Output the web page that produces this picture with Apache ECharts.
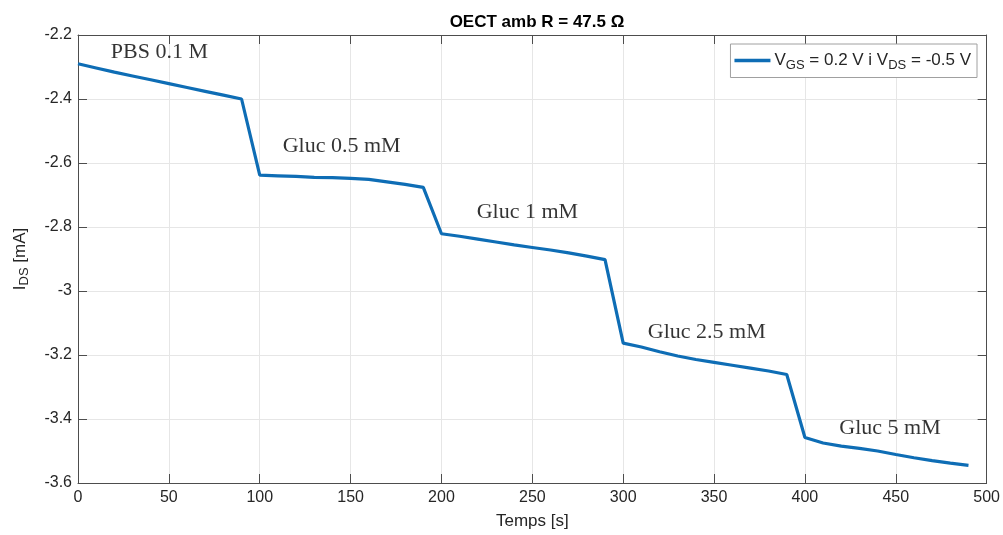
<!DOCTYPE html>
<html>
<head>
<meta charset="utf-8">
<script src="https://cdn.jsdelivr.net/npm/echarts@6/dist/echarts.min.js"></script>
<style>
  html, body { margin: 0; padding: 0; background: #fff; }
  #chart { width: 1003px; height: 535px; }
</style>
</head>
<body>
<div id="chart"></div>
<script>
// temps [s]
const temps = [0, 10, 20, 30, 40, 50, 60, 70, 80, 90,
  100, 110, 120, 130, 140, 150, 160, 170, 180, 190,
  200, 210, 220, 230, 240, 250, 260, 270, 280, 290,
  300, 310, 320, 330, 340, 350, 360, 370, 380, 390,
  400, 410, 420, 430, 440, 450, 460, 470, 480, 490]
// I_DS [mA]
const ids = [-2.290, -2.303, -2.316, -2.328, -2.340, -2.352, -2.364, -2.376, -2.388, -2.400,
  -2.638, -2.640, -2.642, -2.645, -2.646, -2.648, -2.651, -2.659, -2.667, -2.676,
  -2.821, -2.829, -2.838, -2.847, -2.856, -2.864, -2.872, -2.881, -2.891, -2.902,
  -3.163, -3.175, -3.190, -3.203, -3.214, -3.223, -3.232, -3.241, -3.250, -3.261,
  -3.458, -3.475, -3.485, -3.492, -3.500, -3.511, -3.521, -3.530, -3.538, -3.545]
// anotacions (posicio en unitats de dades)
const notesText = ['PBS 0.1 M', 'Gluc 0.5 mM', 'Gluc 1 mM', 'Gluc 2.5 mM', 'Gluc 5 mM']
const notesX = [44.8, 145.1, 247.3, 346.0, 446.8]
const notesY = [-2.255, -2.548, -2.754, -3.128, -3.430]

const xTicks = { min: 0, max: 500, interval: 50 }
const yTicks = { min: -3.6, max: -2.2, interval: 0.2 }

const axisColor = '#4d4d4d'
const textColor = '#262626'
const gridColor = '#e6e6e6'
const lineColor = '#0e6db5'

let chart = echarts.init(document.getElementById('chart'))

const lineData = temps.map((t, i) => [t, ids[i]])
const noteData = notesText.map((s, i) => ({ value: [notesX[i], notesY[i]], name: s }))

const baseX = {
  type: 'value', min: xTicks.min, max: xTicks.max, interval: xTicks.interval,
  axisLine: { show: true, onZero: false, lineStyle: { color: axisColor, width: 1 } },
  axisTick: { show: true, inside: true, length: 9, lineStyle: { color: axisColor } }
}
const baseY = {
  type: 'value', min: yTicks.min, max: yTicks.max, interval: yTicks.interval,
  axisLine: { show: true, onZero: false, lineStyle: { color: axisColor, width: 1 } },
  axisTick: { show: true, inside: true, length: 9, lineStyle: { color: axisColor } }
}

// text amb subindexs
const subRich = {
  n: { fontSize: 17, fontFamily: 'Liberation Sans', color: textColor, lineHeight: 20 },
  s: { fontSize: 13, fontFamily: 'Liberation Sans', color: textColor, padding: [9, 0, 0, 0] }
}

chart.setOption({
  animation: false,
  backgroundColor: '#fff',
  title: {
    text: 'OECT amb R = 47.5 Ω',
    left: 532, top: 9, textAlign: 'center',
    textStyle: { fontFamily: 'Liberation Sans', fontWeight: 'bold', fontSize: 17, color: '#000' }
  },
  grid: { left: 78, right: 16, top: 35, bottom: 52, containLabel: false },
  legend: {
    data: [{ name: 'main', icon: 'rect' }],
    right: 26, top: 44,
    orient: 'vertical',
    backgroundColor: '#fff',
    borderColor: '#a0a0a0', borderWidth: 1, borderRadius: 0,
    padding: [8, 6, 6, 4],
    itemWidth: 36, itemHeight: 3.5, itemGap: 0,
    itemStyle: { color: lineColor, borderWidth: 0 },
    formatter: () => '{n|V}{s|GS}{n| = 0.2 V i V}{s|DS}{n| = -0.5 V}',
    textStyle: {
      color: textColor, fontFamily: 'Liberation Sans', fontSize: 17,
      padding: [0, 0, 0, -1],
      rich: subRich
    }
  },
  xAxis: [
    Object.assign({}, baseX, {
      position: 'bottom',
      name: 'Temps [s]', nameLocation: 'middle', nameGap: 30,
      nameTextStyle: { fontFamily: 'Liberation Sans', fontSize: 17, color: textColor },
      axisLabel: { fontFamily: 'Liberation Sans', fontSize: 16, color: textColor, margin: 7 },
      splitLine: { show: true, lineStyle: { color: gridColor, width: 1 } }
    }),
    Object.assign({}, baseX, {
      position: 'top', axisLabel: { show: false }, splitLine: { show: false }
    })
  ],
  yAxis: [
    Object.assign({}, baseY, {
      position: 'left',
      name: '{n|I}{s|DS}{n| [mA]}', nameLocation: 'middle', nameGap: 47,
      nameTextStyle: { color: textColor, rich: subRich },
      axisLabel: { fontFamily: 'Liberation Sans', fontSize: 16, color: textColor, margin: 6 },
      splitLine: { show: true, lineStyle: { color: gridColor, width: 1 } }
    }),
    Object.assign({}, baseY, {
      position: 'right', axisLabel: { show: false }, splitLine: { show: false }
    })
  ],
  series: [
    {
      name: 'main', type: 'line', data: lineData,
      xAxisIndex: 0, yAxisIndex: 0,
      showSymbol: false, symbol: 'none',
      lineStyle: { color: lineColor, width: 3.2 },
      itemStyle: { color: lineColor },
      z: 5
    },
    {
      name: 'notes', type: 'scatter', data: noteData,
      xAxisIndex: 0, yAxisIndex: 0,
      symbolSize: 0, silent: true,
      label: {
        show: true, position: 'inside', formatter: p => p.name,
        fontFamily: 'Liberation Serif', fontSize: 22, color: '#000'
      },
      z: 6
    }
  ]
})

window.addEventListener('resize', function () {
  chart.resize()
})
</script>
</body>
</html>
